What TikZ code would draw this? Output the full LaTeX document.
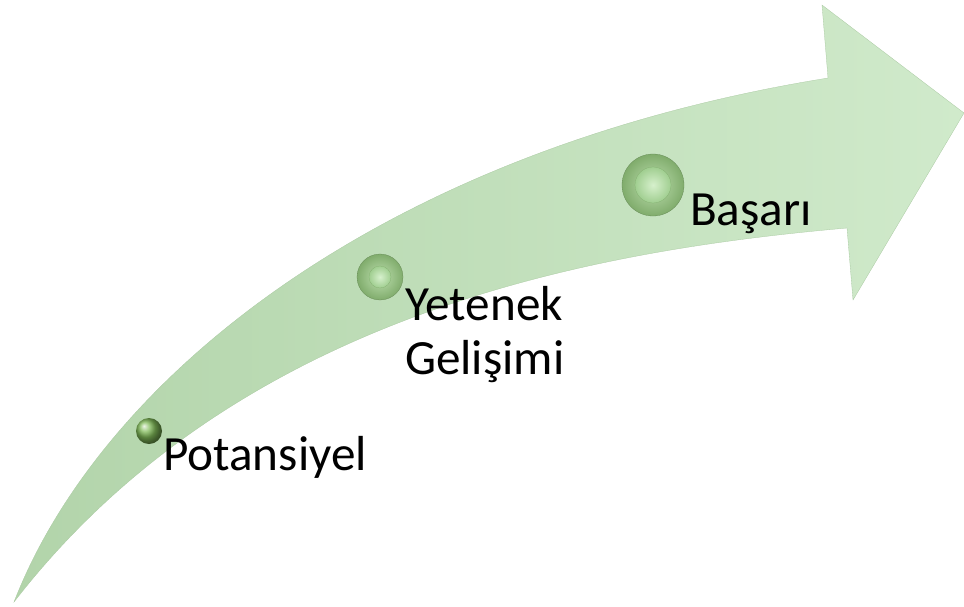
\documentclass[tikz,border=0pt]{standalone}
\usepackage{fontspec}
\setmainfont{Carlito}
\definecolor{bandtail}{RGB}{178,212,170}
\definecolor{bandhead}{RGB}{208,234,203}
\definecolor{bandedge}{RGB}{168,200,160}
\definecolor{dotgreen}{RGB}{128,186,88}
\definecolor{ringlight}{RGB}{190,224,176}
\definecolor{ringdark}{RGB}{128,172,108}
\definecolor{corelight}{RGB}{214,240,204}
\definecolor{coregreen}{RGB}{160,206,144}
\begin{document}
\begin{tikzpicture}[x=0.5mm,y=-0.5mm]
  \tikzset{arrowbody/.style = {left color=bandtail, right color=bandhead, draw=bandedge, line width=0.4pt}}
  \tikzset{seeddot/.style = {shape=circle, minimum size=13mm, inner sep=0pt, shading=ball, ball color=dotgreen}}
  \tikzset{stagering/.style = {shape=circle, inner sep=0pt, inner color=ringlight, outer color=ringdark, draw=ringdark!80!black, line width=0.4pt}}
  \tikzset{stagecore/.style = {shape=circle, inner sep=0pt, inner color=corelight, outer color=coregreen, draw=ringdark, line width=0.3pt}}
  \tikzset{stagetext/.style = {anchor=base west, inner sep=0pt, font=\fontsize{70pt}{76pt}\selectfont}}

  \useasboundingbox (0,0) rectangle (964,606);

  % curved arrow
  \path[arrowbody] (14,602) .. controls (100,380) and (380,150) .. (828,78)
    -- (822,5) -- (964,113) -- (853,300) -- (847,228)
    .. controls (600,250) and (240,310) .. (14,602) -- cycle;

  % stage dots
  \node[seeddot] (potdot) at (149,431) {};
  \node[stagering, minimum size=23mm] (yetdot) at (380,277) {};
  \node[stagecore, minimum size=11mm] (yetcore) at (yetdot) {};
  \node[stagering, minimum size=31mm] (basdot) at (653,185) {};
  \node[stagecore, minimum size=18mm] (bascore) at (basdot) {};

  % stage labels
  \node[stagetext] (potansiyel) at (163,470) {Potansiyel};
  \node[stagetext] (yetenek) at (405,320) {Yetenek};
  \node[stagetext] (gelisimi) at (405,374) {Gelişimi};
  \node[stagetext] (basari) at (690,225) {Başarı};
\end{tikzpicture}
\end{document}
